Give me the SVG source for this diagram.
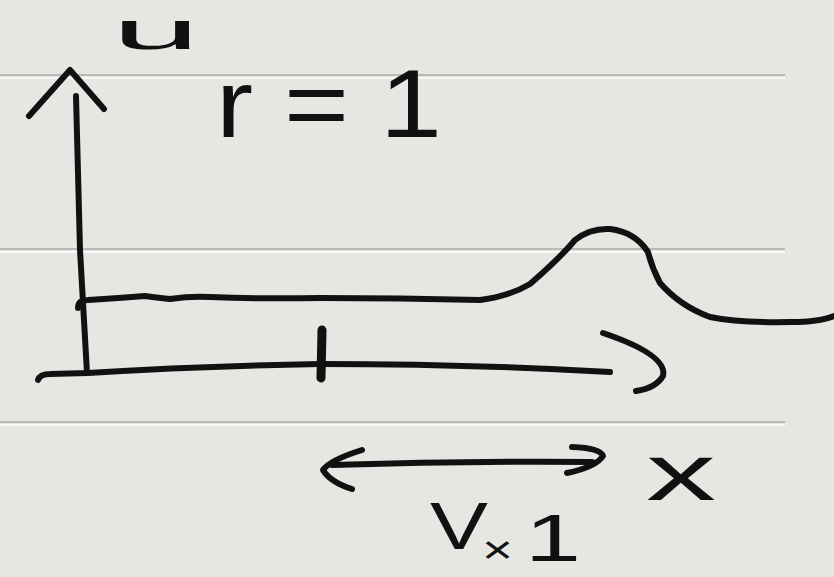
<svg xmlns="http://www.w3.org/2000/svg" width="834" height="577" viewBox="0 0 834 577">
<defs>
<style>
.rule{stroke:#b9b9b7;stroke-width:2;fill:none}
.hl{stroke:#f7f7f5;stroke-width:2;fill:none}
.ink{stroke:#111;stroke-width:6;fill:none;stroke-linecap:round;stroke-linejoin:round}
.lbl{font-family:"Liberation Sans","DejaVu Sans",sans-serif;fill:#111}
</style>
</defs>
<rect width="834" height="577" fill="#e6e6e3"/>
<g id="paper">
<line class="rule" x1="0" y1="75" x2="785" y2="75"/>
<line class="hl" x1="0" y1="78" x2="785" y2="78"/>
<line class="rule" x1="0" y1="249" x2="785" y2="249"/>
<line class="hl" x1="0" y1="252" x2="785" y2="252"/>
<line class="rule" x1="0" y1="422" x2="785" y2="422"/>
<line class="hl" x1="0" y1="425" x2="785" y2="425"/>
</g>
<g id="u-axis">
<path class="ink" d="M76,96 L80,250 L87,373"/>
<path class="ink" d="M29,116 L70,70 L104,109"/>
</g>
<g id="x-axis">
<path class="ink" d="M38,380 Q40,374 50,374 L88,373 Q200,366 320,364 Q470,364 610,372"/>
<path class="ink" d="M322,330 L321,378" style="stroke-width:9"/>
<path class="ink" d="M603,333 Q668,355 663,376 Q656,388 636,391"/>
</g>
<g id="profile">
<path class="ink" d="M78,308 Q78,300 88,300 Q120,298 145,296 Q160,298 170,299 Q190,296 210,297 Q260,299 320,298 Q400,298 480,300 Q510,296 530,284 Q560,258 575,240 Q590,228 610,229 Q635,232 648,252 Q652,268 660,283 Q680,306 710,317 Q740,323 790,322 Q820,322 834,316"/>
</g>
<g id="connectors">
<path class="ink" d="M332,465 Q460,461 592,462"/>
<path class="ink" d="M362,450 Q330,460 323,470 Q330,482 352,489"/>
<path class="ink" d="M572,447 Q600,448 603,456 Q596,467 567,473"/>
</g>
<g id="labels">
<text class="lbl" x="112" y="49" font-size="54" textLength="88" lengthAdjust="spacingAndGlyphs">u</text>
<text class="lbl" x="216" y="137" font-size="96" textLength="226" lengthAdjust="spacingAndGlyphs">r = 1</text>
<text class="lbl" x="646" y="500" font-size="80" textLength="70" lengthAdjust="spacingAndGlyphs">x</text>
<text class="lbl" x="430" y="549" font-size="67" textLength="58" lengthAdjust="spacingAndGlyphs">V</text>
<text class="lbl" x="482" y="563" font-size="38" textLength="31" lengthAdjust="spacingAndGlyphs">×</text>
<text class="lbl" x="525" y="561" font-size="66" textLength="56" lengthAdjust="spacingAndGlyphs">1</text>
</g>
</svg>
